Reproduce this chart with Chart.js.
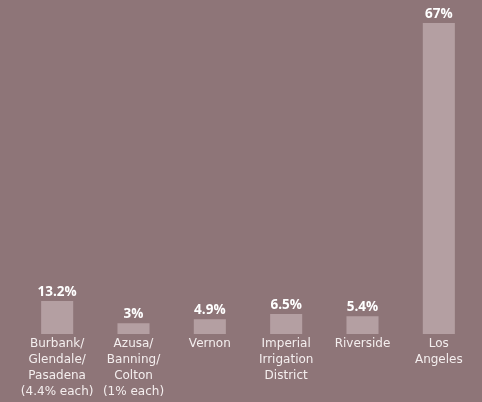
<!DOCTYPE html>
<html>
<head>
<meta charset="utf-8">
<script src="https://cdn.jsdelivr.net/npm/chart.js@4"></script>
<style>
    html, body { margin: 0; padding: 0; background: #8e7578; }
    #wrap { width: 482px; height: 402px; }
</style>
</head>
<body>
<div id="wrap"><canvas id="myChart" width="482" height="402"></canvas></div>
<script>
// categories (multi-line tick labels)
var categories = [
    ["Burbank/", "Glendale/", "Pasadena", "(4.4% each)"],
    ["Azusa/", "Banning/", "Colton", "(1% each)"],
    ["Vernon"],
    ["Imperial", "Irrigation", "District"],
    ["Riverside"],
    ["Los", "Angeles"]
];
// bar heights as drawn in the picture
var barValues = [7.1, 2.3, 3.2, 4.3, 3.8, 67];
// value labels shown above the bars
var valueLabels = ["13.2%", "3%", "4.9%", "6.5%", "5.4%", "67%"];

var labelFont = "'DejaVu Sans', sans-serif";
var valueFont = "'Open Sans', sans-serif";

var valueLabelPlugin = {
    id: 'valueLabels',
    afterDatasetsDraw: function (chart) {
        var ctx = chart.ctx;
        var meta = chart.getDatasetMeta(0);
        ctx.save();
        ctx.fillStyle = '#ffffff';
        ctx.font = 'bold 13.5px ' + valueFont;
        ctx.textAlign = 'center';
        ctx.textBaseline = 'bottom';
        meta.data.forEach(function (bar, i) {
            ctx.fillText(valueLabels[i], bar.x, bar.y - 2);
        });
        ctx.restore();
    }
};

var ctx = document.getElementById("myChart").getContext("2d");
var myBarChart = new Chart(ctx, {
    type: 'bar',
    data: {
        labels: categories,
        datasets: [{
            data: barValues,
            backgroundColor: '#b49fa2',
            borderWidth: 0,
            categoryPercentage: 1,
            barPercentage: 0.42
        }]
    },
    options: {
        responsive: false,
        animation: false,
        layout: { padding: { top: 23, left: 19, right: 5, bottom: 0 } },
        plugins: {
            legend: { display: false },
            tooltip: { enabled: false }
        },
        scales: {
            y: { display: false, min: 0, max: 67 },
            x: {
                grid: { display: false, drawTicks: false },
                border: { display: false },
                ticks: {
                    color: '#f4eeee',
                    padding: 2,
                    maxRotation: 0,
                    autoSkip: false,
                    font: { family: labelFont, size: 12, lineHeight: '16px' }
                }
            }
        }
    },
    plugins: [valueLabelPlugin]
});
</script>
</body>
</html>
